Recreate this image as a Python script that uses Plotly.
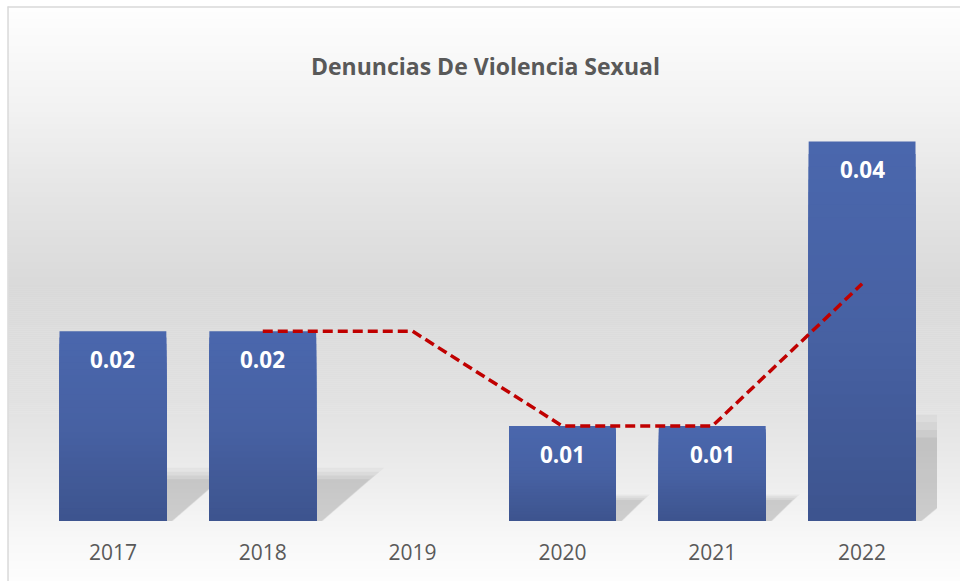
import plotly.graph_objects as go

years = ["2017", "2018", "2019", "2020", "2021", "2022"]
denuncias = [0.02, 0.02, None, 0.01, 0.01, 0.04]
labels = ["0.02", "0.02", "", "0.01", "0.01", "0.04"]
trend_years = ["2018", "2019", "2020", "2021", "2022"]
trend_values = [0.02, 0.02, 0.01, 0.01, 0.025]

W, H = 960, 581
L, R, T, B = 37.5, 22.5, 93.5, 60
PW, PH = W - L - R, H - T - B
BASE = H - B

def px_x(px):
    return (px - L) / PW

def px_y(py):
    return (BASE - py) / PH

def lerp_stops(stops, t):
    for (t0, c0), (t1, c1) in zip(stops, stops[1:]):
        if t0 <= t <= t1:
            f = (t - t0) / (t1 - t0) if t1 > t0 else 0
            return tuple(a + (b - a) * f for a, b in zip(c0, c1))
    return stops[-1][1]

# background gradient stops (pixel y from top, gray level)
bg_stops = [(6, (254,)), (100, (243,)), (200, (228,)), (290, (217,)), (400, (225,)),
            (480, (237,)), (540, (248,)), (581, (253,))]

shapes = []
step = 2
y = 7
while y < H:
    g = int(round(lerp_stops(bg_stops, y + step / 2)[0]))
    shapes.append(dict(type="rect", xref="paper", yref="paper",
                       x0=px_x(8), x1=px_x(W + 2),
                       y0=px_y(y + step + 0.6), y1=px_y(y),
                       line=dict(width=0), fillcolor=f"rgb({g},{g},{g})", layer="below"))
    y += step

# soft shadows to the right of each bar, derived from the bar values
half = (1 - 0.287) / 2
for i, v in enumerate(denuncias):
    if not v:
        continue
    xr = i + half
    for k, op in ((1.12, 0.05), (1.04, 0.06), (0.96, 0.07), (0.88, 0.08)):
        top = 0.25 * v * k
        ext = 20.3 * v * k
        path = (f"M {xr},0 L {xr},{top} L {xr + ext},{top} "
                f"L {xr + 0.04 * k},0 Z")
        shapes.append(dict(type="path", xref="x", yref="y", path=path,
                           fillcolor=f"rgba(80,80,80,{op})", line=dict(width=0), layer="below"))

# border lines
shapes.append(dict(type="line", xref="paper", yref="paper",
                   x0=px_x(7.5), x1=px_x(7.5), y0=px_y(6), y1=px_y(H + 2),
                   line=dict(color="#D9D9D9", width=1.5)))
shapes.append(dict(type="line", xref="paper", yref="paper",
                   x0=px_x(7), x1=px_x(W + 2), y0=px_y(6.5), y1=px_y(6.5),
                   line=dict(color="#D9D9D9", width=1.5)))

fig = go.Figure()

# bars drawn as nested overlays (tallest first) to reproduce the vertical colour gradient
bar_stops = [(0.0, (61, 84, 142)), (0.5, (71, 97, 163)), (1.0, (74, 103, 173))]
N = 30
for k in range(N):
    frac = (N - k) / N
    c = lerp_stops(bar_stops, (N - k - 0.5) / N)
    col = f"rgb({int(round(c[0]))},{int(round(c[1]))},{int(round(c[2]))})"
    seg = [None if v is None else v * frac for v in denuncias]
    fig.add_trace(go.Bar(x=years, y=seg, marker=dict(color=col, line=dict(width=0)),
                         showlegend=False, hoverinfo="skip"))

fig.add_trace(go.Scatter(x=trend_years, y=trend_values, mode="lines",
                         line=dict(color="#C00000", width=3.5, dash="10px,5px"),
                         showlegend=False, hoverinfo="skip"))

annotations = []
for i, (v, lab) in enumerate(zip(denuncias, labels)):
    if v is None:
        continue
    annotations.append(dict(x=i, y=v, text=f"<b>{lab}</b>", showarrow=False, yanchor="middle",
                            yshift=-28.5, font=dict(family="Open Sans", size=22.5, color="white"),
                            xref="x", yref="y"))

annotations.append(dict(x=px_x(485), y=px_y(47), xref="paper", yref="paper",
                        text="<b>Denuncias De Violencia Sexual</b>",
                        showarrow=False, font=dict(family="Open Sans", size=23, color="#595959")))

fig.update_layout(
    width=W, height=H,
    margin=dict(l=L, r=R, t=T, b=B, pad=0),
    paper_bgcolor="white", plot_bgcolor="rgba(0,0,0,0)",
    barmode="overlay", bargap=0.287,
    shapes=shapes, annotations=annotations,
    xaxis=dict(type="category", range=[-0.5, 5.5], showgrid=False, zeroline=False, showline=False,
               ticks="", ticklabelstandoff=17,
               tickfont=dict(family="Open Sans", size=21, color="#595959")),
    yaxis=dict(range=[0, 0.045], showticklabels=False, showgrid=False, zeroline=False,
               showline=False, ticks=""),
)

fig.write_html("out.html", config={"displayModeBar": False},
               post_script="document.body.style.margin='0';")
